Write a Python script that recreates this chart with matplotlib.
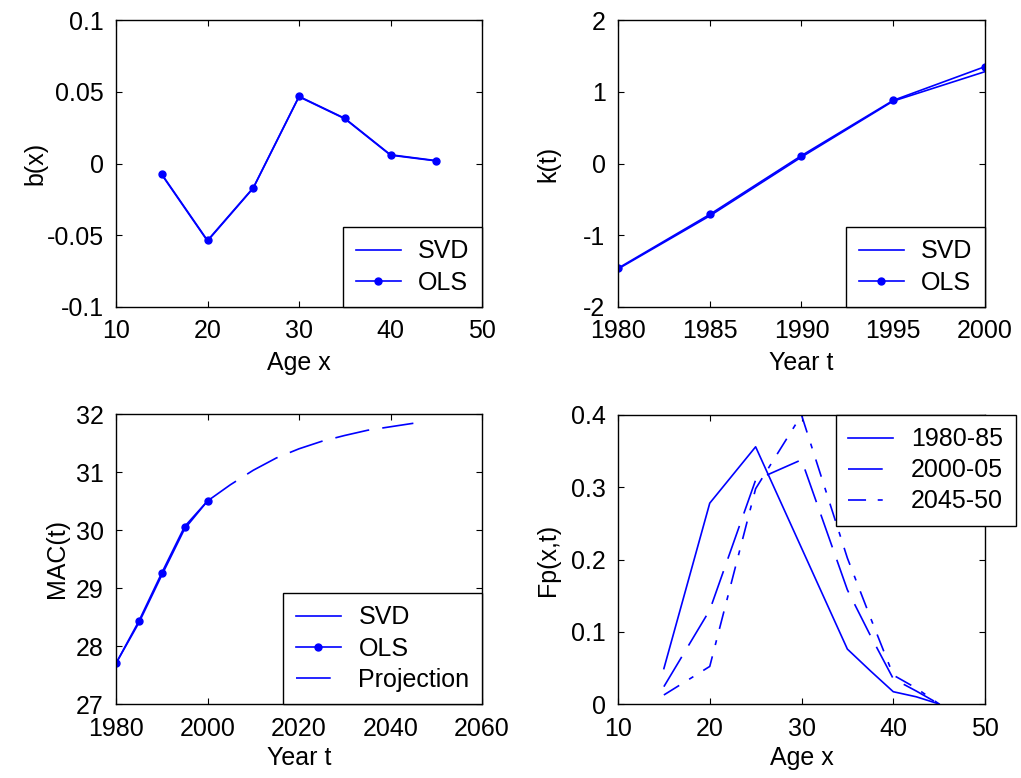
import matplotlib
matplotlib.use("Agg")
import matplotlib.pyplot as plt

plt.rcParams['font.family'] = ['Liberation Sans Narrow', 'Liberation Sans', 'DejaVu Sans']
plt.rcParams['font.size'] = 18
plt.rcParams['axes.unicode_minus'] = False
plt.rcParams['lines.scale_dashes'] = False

BLUE = '#0000ff'

# b(x) by age
ages = [15, 20, 25, 30, 35, 40, 45]
b_svd = [-0.0078, -0.0540, -0.0172, 0.0465, 0.0312, 0.0058, 0.0018]
b_ols = [-0.0074, -0.0536, -0.0169, 0.0468, 0.0315, 0.0061, 0.0020]

# k(t) by year
years = [1980, 1985, 1990, 1995, 2000]
k_svd = [-1.47, -0.73, 0.09, 0.87, 1.28]
k_ols = [-1.46, -0.71, 0.11, 0.88, 1.35]

# MAC(t)
mac_svd = [27.70, 28.40, 29.22, 30.02, 30.50]
mac_ols = [27.70, 28.43, 29.26, 30.06, 30.50]
proj_years = [2000, 2005, 2010, 2015, 2020, 2025, 2030, 2035, 2040, 2045]
mac_proj = [30.50, 30.78, 31.03, 31.24, 31.40, 31.53, 31.63, 31.72, 31.78, 31.84]

# Fp(x,t)
fp_ages = [15, 20, 25, 30, 35, 37.5, 40, 42.5, 45]
fp_1980 = [0.049, 0.278, 0.356, 0.216, 0.076, 0.046, 0.017, 0.010, 0.0]
fp_2000 = [0.024, 0.130, 0.310, 0.338, 0.158, 0.095, 0.035, 0.018, 0.0]
fp_2045 = [0.0125, 0.052, 0.298, 0.400, 0.202, 0.120, 0.040, 0.022, 0.0]

long_dash = (0, (25, 9.5))
dash_dot = (0, (13, 8.4, 3.6, 8.4))

fig = plt.figure(figsize=(10.21, 7.78), dpi=100)
W, H = 1021, 778


def add_ax(l, r, t, b):
    return fig.add_axes([l / W, 1 - b / H, (r - l) / W, (b - t) / H])


def style(ax):
    ax.tick_params(direction='in', length=4, width=0.8, top=True, right=True, pad=9)
    for s in ax.spines.values():
        s.set_linewidth(1.0)


leg_kw = dict(frameon=True, fancybox=False, edgecolor='black', framealpha=1,
              borderaxespad=0, labelspacing=0.28, handlelength=1.8,
              handletextpad=0.7, borderpad=0.5)

ax1 = add_ax(116, 482, 20, 307)
ax1.plot(ages, b_svd, color=BLUE, lw=1.2, label='SVD')
ax1.plot(ages, b_ols, color=BLUE, lw=1.2, marker='o', ms=5, label='OLS')
ax1.set_xlim(10, 50)
ax1.set_ylim(-0.1, 0.1)
ax1.set_xticks([10, 20, 30, 40, 50])
ax1.set_yticks([-0.1, -0.05, 0, 0.05, 0.1])
ax1.set_yticklabels(['-0.1', '-0.05', '0', '0.05', '0.1'])
ax1.set_xlabel('Age x', va='center')
ax1.xaxis.set_label_coords(0.5, -0.195)
ax1.set_ylabel('b(x)', va='center')
ax1.yaxis.set_label_coords(-0.221, 0.5)
ax1.legend(loc='lower right', **leg_kw).get_frame().set_linewidth(1.0)
style(ax1)

ax2 = add_ax(618, 985, 20, 307)
ax2.plot(years, k_svd, color=BLUE, lw=1.2, label='SVD')
ax2.plot(years, k_ols, color=BLUE, lw=1.2, marker='o', ms=5, label='OLS')
ax2.set_xlim(1980, 2000)
ax2.set_ylim(-2, 2)
ax2.set_xticks([1980, 1985, 1990, 1995, 2000])
ax2.set_yticks([-2, -1, 0, 1, 2])
ax2.set_xlabel('Year t', va='center')
ax2.xaxis.set_label_coords(0.5, -0.195)
ax2.set_ylabel('k(t)', va='center')
ax2.yaxis.set_label_coords(-0.19, 0.5)
ax2.legend(loc='lower right', **leg_kw).get_frame().set_linewidth(1.0)
style(ax2)

ax3 = add_ax(116, 482, 414, 704)
ax3.plot(years, mac_svd, color=BLUE, lw=1.2, label='SVD')
ax3.plot(years, mac_ols, color=BLUE, lw=1.2, marker='o', ms=5, label='OLS')
ax3.plot(proj_years, mac_proj, color=BLUE, lw=1.2, linestyle=long_dash, label='Projection')
ax3.set_xlim(1980, 2060)
ax3.set_ylim(27, 32)
ax3.set_xticks([1980, 2000, 2020, 2040, 2060])
ax3.set_yticks([27, 28, 29, 30, 31, 32])
ax3.set_xlabel('Year t', va='center')
ax3.xaxis.set_label_coords(0.5, -0.186)
ax3.set_ylabel('MAC(t)', va='center')
ax3.yaxis.set_label_coords(-0.161, 0.5)
ax3.legend(loc='lower right', **leg_kw).get_frame().set_linewidth(1.0)
style(ax3)

ax4 = add_ax(618, 985, 415, 704)
ax4.plot(fp_ages, fp_1980, color=BLUE, lw=1.2, label='1980-85')
ax4.plot(fp_ages, fp_2000, color=BLUE, lw=1.2, linestyle=long_dash, label='2000-05')
ax4.plot(fp_ages, fp_2045, color=BLUE, lw=1.2, linestyle=dash_dot, label='2045-50')
ax4.set_xlim(10, 50)
ax4.set_ylim(0, 0.4)
ax4.set_xticks([10, 20, 30, 40, 50])
ax4.set_yticks([0, 0.1, 0.2, 0.3, 0.4])
ax4.set_yticklabels(['0', '0.1', '0.2', '0.3', '0.4'])
ax4.set_xlabel('Age x', va='center')
ax4.xaxis.set_label_coords(0.5, -0.186)
ax4.set_ylabel('Fp(x,t)', va='center')
ax4.yaxis.set_label_coords(-0.19, 0.5)
ax4.legend(loc='upper left', bbox_to_anchor=(0.594, 1.0), **leg_kw).get_frame().set_linewidth(1.0)
style(ax4)

fig.savefig('out.png', dpi=100)
